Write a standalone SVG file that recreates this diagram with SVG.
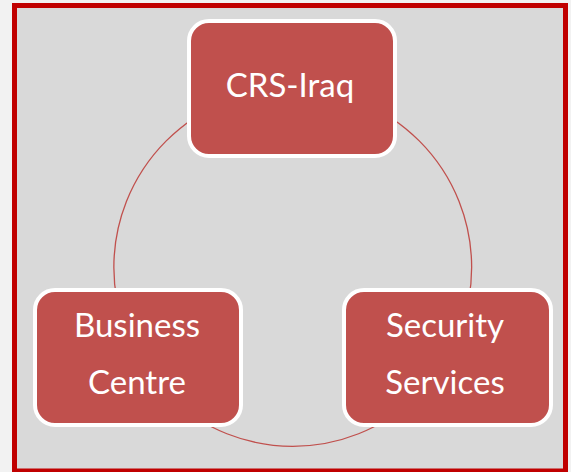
<svg xmlns="http://www.w3.org/2000/svg" width="571" height="472" viewBox="0 0 571 472">
<style>
.node rect{fill:#c0504d;stroke:#ffffff;stroke-width:4}
.node text{fill:#ffffff;font-family:Lato,"Liberation Sans",sans-serif;font-size:33px;text-anchor:middle}
.conn{fill:none;stroke:#c0504d;stroke-width:1.3}
</style>
<rect x="0" y="0" width="571" height="472" fill="#f2f2f2"/>
<rect x="14.5" y="5.5" width="551" height="465.5" fill="#d9d9d9" stroke="#c00000" stroke-width="5"/>
<g id="connectors">
<circle class="conn" cx="292.75" cy="267.4" r="178.9"/>
</g>
<g id="crs-iraq" class="node">
<rect x="189" y="21" width="206" height="135" rx="20"/>
<text x="290" y="97">CRS-Iraq</text>
</g>
<g id="business-centre" class="node">
<rect x="35" y="290" width="206" height="135" rx="20"/>
<text x="137" y="337">Business</text>
<text x="137" y="394">Centre</text>
</g>
<g id="security-services" class="node">
<rect x="344" y="290" width="207" height="135" rx="20"/>
<text x="445" y="337">Security</text>
<text x="445" y="394">Services</text>
</g>
</svg>
